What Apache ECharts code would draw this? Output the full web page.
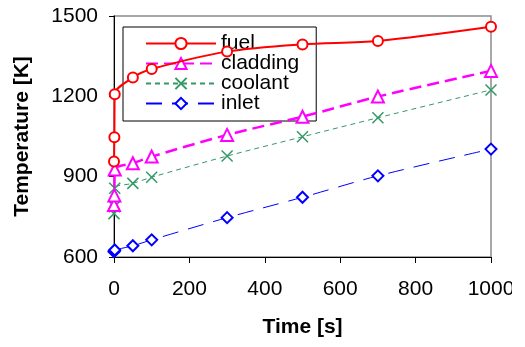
<!DOCTYPE html>
<html>
<head>
<meta charset="utf-8">
<script src="https://cdn.jsdelivr.net/npm/echarts@6/dist/echarts.min.js"></script>
<style>
  html, body {margin: 0; padding: 0; background: #fff;}
  #main {width: 525px; height: 347px;}
</style>
</head>
<body>
<div id="main"></div>
<script>
// values: [time s, temperature K]
const fuel = [[0, 957], [1, 1047], [2, 1208], [50, 1270], [100, 1302], [300, 1367], [500, 1394], [700, 1407], [1000, 1460]];
const cladding = [[0, 794], [1, 830], [2, 927], [50, 950], [100, 975], [300, 1056], [500, 1124], [700, 1199], [1000, 1295]];
const coolant = [[0, 762], [1, 788], [2, 857], [50, 875], [100, 898], [300, 977], [500, 1049], [700, 1120], [1000, 1224]];
const inlet = [[0, 620], [1, 623], [2, 626], [50, 642], [100, 664], [300, 747], [500, 823], [700, 903], [1000, 1003]];
const seriesNames = ['fuel', 'cladding', 'coolant', 'inlet'];

const font = 'Liberation Sans, Arial, sans-serif';
const crossPath = 'path://M0,0L10,10M10,0L0,10';
const plain = v => String(v);

const chart = echarts.init(document.getElementById('main'));

chart.setOption({
  animation: false,
  backgroundColor: '#fff',
  textStyle: {fontFamily: font},
  grid: {
    left: 114, right: 34, top: 16, bottom: 90,
    show: true, borderColor: '#8c8c8c', borderWidth: 1.5, backgroundColor: 'transparent'
  },
  legend: {
    orient: 'vertical',
    left: 123, top: 27,
    padding: [6, 17, 7, 22],
    itemGap: -1,
    itemWidth: 70,
    itemHeight: 14,
    backgroundColor: 'transparent',
    borderColor: '#000',
    borderWidth: 1,
    textStyle: {fontFamily: font, fontSize: 21, color: '#000'},
    data: seriesNames
  },
  // the picture is cut off on its right side
  graphic: [{
    type: 'rect', right: 0, top: 265, z: 100,
    shape: {width: 13, height: 40},
    style: {fill: '#fff'}
  }],
  xAxis: {
    type: 'value',
    min: 0, max: 1000, interval: 200,
    name: 'Time [s]',
    nameLocation: 'middle',
    nameGap: 60,
    nameTextStyle: {fontFamily: font, fontSize: 21, fontWeight: 'bold', color: '#000'},
    axisLine: {onZero: false, lineStyle: {color: '#000', width: 1}},
    axisTick: {inside: false, length: 6, lineStyle: {color: '#000'}},
    axisLabel: {fontFamily: font, fontSize: 21, color: '#000', margin: 22, formatter: plain},
    splitLine: {show: false}
  },
  yAxis: {
    type: 'value',
    min: 600, max: 1500, interval: 300,
    name: 'Temperature [K]',
    nameLocation: 'middle',
    nameGap: 81,
    nameTextStyle: {fontFamily: font, fontSize: 21, fontWeight: 'bold', color: '#000'},
    axisLine: {show: true, onZero: false, lineStyle: {color: '#000', width: 1}},
    axisTick: {show: true, inside: false, length: 5, lineStyle: {color: '#000'}},
    axisLabel: {fontFamily: font, fontSize: 21, color: '#000', margin: 16, formatter: plain},
    splitLine: {show: false}
  },
  series: [
    {
      name: 'fuel', type: 'line', data: fuel, smooth: 0.3,
      symbol: 'emptyCircle', symbolSize: 10,
      lineStyle: {color: '#ff0000', width: 2},
      itemStyle: {color: '#ff0000', borderWidth: 1.5},
      z: 5
    },
    {
      name: 'cladding', type: 'line', data: cladding, smooth: 0.3,
      symbol: 'emptyTriangle', symbolSize: 12,
      lineStyle: {color: '#ff00ff', width: 2.5, type: [12, 6]},
      itemStyle: {color: '#ff00ff', borderWidth: 1.5},
      z: 4
    },
    {
      name: 'coolant', type: 'line', data: coolant, smooth: 0.3,
      symbol: crossPath, symbolSize: 11,
      lineStyle: {color: '#339966', width: 1, type: [5, 4]},
      itemStyle: {color: '#339966', borderColor: '#339966', borderWidth: 1.5},
      z: 3
    },
    {
      name: 'inlet', type: 'line', data: inlet, smooth: 0.3,
      symbol: 'emptyDiamond', symbolSize: 11,
      lineStyle: {color: '#0000ff', width: 1, type: [16, 10]},
      itemStyle: {color: '#0000ff', borderWidth: 1.5},
      z: 2
    }
  ]
});
</script>
</body>
</html>
